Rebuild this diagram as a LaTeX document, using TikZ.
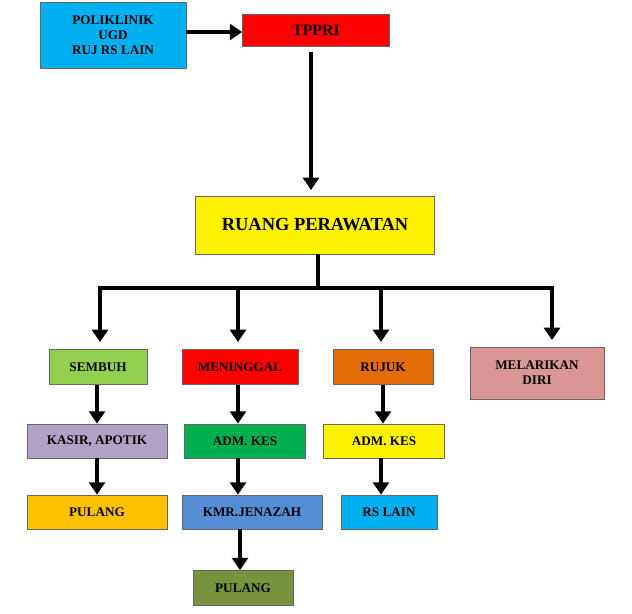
\documentclass[tikz,border=0pt]{standalone}
\usepackage{fontspec}
\setmainfont{Liberation Serif}
\usetikzlibrary{arrows.meta}
\definecolor{cyanbox}{HTML}{00B0F0}
\definecolor{greenbox}{HTML}{92D050}
\definecolor{darkgreen}{HTML}{00B050}
\definecolor{orangebox}{HTML}{E36C09}
\definecolor{pinkbox}{HTML}{D99694}
\definecolor{lavender}{HTML}{B2A2C7}
\definecolor{goldbox}{HTML}{FFC000}
\definecolor{bluebox}{HTML}{558ED5}
\definecolor{olivebox}{HTML}{77933C}
\tikzset{
  box/.style={draw=black!60,inner sep=0pt,align=center,font=\bfseries\fontsize{7.5}{8.5}\selectfont},
  flow/.style={line width=2.4pt,-{Triangle[length=7pt,width=9pt]}},
  link/.style={line width=2.4pt}
}
\begin{document}
\begin{tikzpicture}[x=0.02cm,y=-0.02cm]
\useasboundingbox (0,0) rectangle (632,613);
\node (poli) [box,fill=cyanbox,minimum width=2.92cm,minimum height=1.32cm] at (113,35) {POLIKLINIK\\UGD\\RUJ RS LAIN};
\node (tppri) [box,fill=red,minimum width=2.94cm,minimum height=0.64cm,font=\bfseries\fontsize{9}{10}\selectfont] at (316,30) {TPPRI};
\node (ruang) [box,fill=yellow,minimum width=4.78cm,minimum height=1.16cm,font=\bfseries\fontsize{10.5}{12}\selectfont] at (315,225) {RUANG PERAWATAN};
\node (sembuh) [box,fill=greenbox,minimum width=1.96cm,minimum height=0.7cm] at (98,367) {SEMBUH};
\node (mati) [box,fill=red,minimum width=2.32cm,minimum height=0.7cm] at (240,367) {MENINGGAL};
\node (rujuk) [box,fill=orangebox,minimum width=2cm,minimum height=0.7cm] at (383,367) {RUJUK};
\node (lari) [box,fill=pinkbox,minimum width=2.68cm,minimum height=1.04cm] at (537,373) {MELARIKAN\\DIRI};
\node (kasir) [box,fill=lavender,minimum width=2.8cm,minimum height=0.68cm] at (97,441) {KASIR, APOTIK};
\node (admA) [box,fill=darkgreen,minimum width=2.42cm,minimum height=0.68cm] at (245,441) {ADM. KES};
\node (admB) [box,fill=yellow,minimum width=2.42cm,minimum height=0.68cm] at (384,441) {ADM. KES};
\node (pulangA) [box,fill=goldbox,minimum width=2.8cm,minimum height=0.68cm] at (97,512) {PULANG};
\node (jenazah) [box,fill=bluebox,minimum width=2.8cm,minimum height=0.68cm] at (252,512) {KMR.JENAZAH};
\node (rslain) [box,fill=cyanbox,minimum width=1.92cm,minimum height=0.68cm] at (389,512) {RS LAIN};
\node (pulangB) [box,fill=olivebox,minimum width=2cm,minimum height=0.7cm] at (243,588) {PULANG};
\coordinate (hub) at (318,288);
\coordinate (hubL) at (100,288);
\coordinate (hubR) at (552,288);
% alur utama
\draw [flow] (poli.east |- 0,32) -- (tppri.west |- 0,32);
\draw [flow] (311,52) -- (311,190);
\draw [link] (318,254) -- (hub);
\draw [link,line cap=rect] (hubL) -- (hubR);
\draw [flow] (hubL) -- (100,342);
\draw [flow] (238,288) -- (238,342);
\draw [flow] (381,288) -- (381,342);
\draw [flow] (hubR) -- (552,340);
% cabang
\draw [flow] (97,0 |- sembuh.south) -- (97,0 |- kasir.north);
\draw [flow] (238,0 |- mati.south) -- (238,0 |- admA.north);
\draw [flow] (383,0 |- rujuk.south) -- (383,0 |- admB.north);
\draw [flow] (97,0 |- kasir.south) -- (97,0 |- pulangA.north);
\draw [flow] (238,0 |- admA.south) -- (238,0 |- jenazah.north);
\draw [flow] (381,0 |- admB.south) -- (381,0 |- rslain.north);
\draw [flow] (240,0 |- jenazah.south) -- (240,0 |- pulangB.north);
\end{tikzpicture}
\end{document}
